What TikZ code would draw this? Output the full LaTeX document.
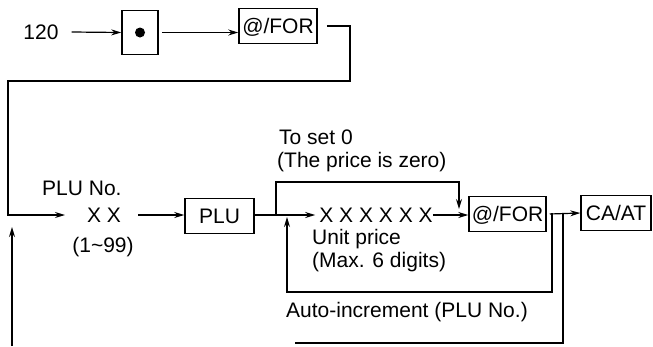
\documentclass[tikz,border=0pt]{standalone}
\usepackage{fontspec}
\setmainfont{Liberation Sans}
\usetikzlibrary{arrows.meta}
\tikzset{
  txt/.style={inner sep=0pt, font=\fontsize{21}{23}\selectfont, text height=15pt, text depth=0pt},
  keybox/.style={draw, line width=1.5pt, inner sep=0pt, minimum height=35pt,
    font=\fontsize{21}{23}\selectfont, text height=15pt, text depth=0pt},
  conn/.style={line width=1.2pt},
  arr/.style={conn, -{Stealth[length=10pt,width=6pt]}}
}
\begin{document}
\begin{tikzpicture}[x=1pt,y=-1pt]
\useasboundingbox (0,0) rectangle (653,346);
% top row
\node[txt] (n120) at (41,32) {120};
\node[keybox, minimum width=36pt, minimum height=44pt] (dot) at (140,32.5) {};
\fill (dot.center) circle (5pt);
\node[keybox, minimum width=78pt] (for1) at (278,26) {@/FOR};
\draw[arr] ([xshift=13pt]n120.east) -- (dot.west);
\draw[arr] ([xshift=3pt]dot.east) -- (dot.east -| for1.west);
% link down to the main row
\coordinate (tr) at (350,81);
\coordinate (tl) at (8,81);
\coordinate (a1) at (65,215);
\node[txt] (xx) at (104,215) {X X};
\draw[arr] ([xshift=9pt]for1.east) -| (tr) -- (tl) |- (a1);
\node[txt, anchor=west] (pluno) at (42,188) {PLU No.};
\node[txt] (range) at (103,245) {(1\textasciitilde 99)};
% main row
\node[keybox, minimum width=69pt] (plu) at (219.5,216) {PLU};
\node[txt] (x6) at (376,215) {X X X X X X};
\node[keybox, minimum width=77pt] (for2) at (507.5,214) {@/FOR};
\node[keybox, minimum width=70pt] (ca) at (616,213) {CA/AT};
\draw[arr] ([xshift=17pt]xx.east) -- (xx.east -| plu.west);
\draw[arr] (plu.east |- x6.west) -- ([xshift=-4pt]x6.west);
\draw[arr] (x6.east) -- (x6.east -| for2.west);
\draw[arr] ([xshift=3pt]for2.east) -- (ca.west);
% to set 0 bypass
\coordinate (b1) at (276,215);
\coordinate (b1t) at (276,182);
\coordinate (b2t) at (459,182);
\coordinate (b2) at (459,209);
\draw[arr] (b1) -- (b1t) -- (b2t) -- (b2);
\node[txt, anchor=west] (set0) at (279,137) {To set 0};
\node[txt, anchor=west] (zero) at (277,160) {(The price is zero)};
\node[txt, anchor=west] (unit) at (312,237) {Unit price};
\node[txt, anchor=west] (max6) at (312,260) {(Max. 6 digits)};
% auto-increment loop
\coordinate (l1) at (552,213);
\coordinate (l1b) at (552,292);
\coordinate (l1c) at (287,292);
\coordinate (l1t) at (287,217);
\draw[arr] (l1) -- (l1b) -- (l1c) -- (l1t);
\node[txt, anchor=west] (auto) at (286,310) {Auto-increment (PLU No.)};
% return loop
\coordinate (l2) at (563,213);
\coordinate (l2b) at (563,343);
\coordinate (l2e) at (295,343);
\draw[conn] (l2) -- (l2b) -- (l2e);
\coordinate (r1) at (12,346);
\coordinate (r1t) at (12,227);
\draw[arr] (r1) -- (r1t);
\end{tikzpicture}
\end{document}
